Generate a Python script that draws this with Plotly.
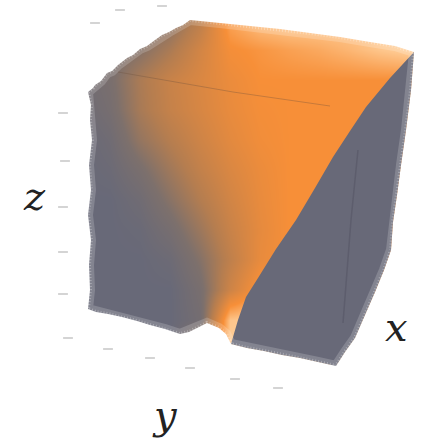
import plotly.graph_objects as go

# picture space, one unit = one pixel
WIDTH = 436
HEIGHT = 442

# how far each part of the cloud has gone from grey (0) to orange (1) to pale orange (1.3)
grid_x = [80, 110, 140, 170, 200, 230, 260, 290, 320, 350, 380, 410]
grid_y = [20, 50, 80, 110, 140, 170, 200, 230, 260, 290, 320, 350]
orange_share = [
    [.20, .20, .20, .30, .60, 1.10, 1.25, 1.30, 1.30, 1.30, 1.30, 1.30],
    [.20, .20, .30, .50, .75, .98, 1.03, 1.08, 1.12, 1.18, 1.25, 1.30],
    [.10, .22, .50, .68, .80, .92, 1.00, 1.00, 1.00, 1.00, 1.00, 1.00],
    [.05, .18, .48, .66, .78, .90, .98, 1.00, 1.00, 1.00, 1.00, 1.00],
    [.00, .10, .38, .56, .72, .86, .96, 1.00, 1.00, 1.00, 1.00, 1.00],
    [.00, .05, .22, .44, .64, .80, .92, 1.00, 1.00, 1.00, 1.00, 1.00],
    [.00, .00, .10, .32, .54, .74, .90, 1.00, 1.00, 1.00, 1.00, 1.00],
    [.00, .00, .03, .18, .42, .68, .88, 1.00, 1.00, 1.00, 1.00, 1.00],
    [.00, .00, .00, .06, .30, .62, .90, 1.00, 1.00, 1.00, 1.00, 1.00],
    [.00, .00, .00, .00, .20, .72, 1.05, 1.00, 1.00, 1.00, 1.00, 1.00],
    [.00, .00, .00, .00, .15, 1.25, 1.30, 1.20, 1.20, 1.20, 1.20, 1.20],
    [.00, .00, .00, .00, .50, 1.30, 1.30, 1.30, 1.30, 1.30, 1.30, 1.30],
]

# outline of the whole cloud, clockwise from the left corner
cloud_x = [88, 93, 95, 101, 107, 112, 118, 127, 133, 140, 147, 155, 162, 169, 176, 183, 190,
           220, 250, 280, 310, 340, 370, 395, 414,
           411, 406, 401, 397, 393, 391, 384, 375, 365, 355, 345, 336,
           318, 300, 282, 264, 247, 231, 226, 219, 207, 197, 189, 180,
           165, 150, 137, 122, 108, 96, 88, 90, 89, 91, 88, 91, 89, 92, 90, 91, 88]
cloud_y = [92, 88, 85, 81, 73, 71, 65, 58, 55, 49, 46, 40, 35, 32, 28, 25, 20,
           23, 26, 29, 33, 37, 42, 46, 52,
           90, 130, 165, 195, 222, 250, 270, 292, 315, 338, 352, 366,
           362, 358, 355, 351, 348, 344, 334, 328, 323, 328, 332, 334,
           329, 325, 321, 317, 314, 312, 309, 290, 265, 240, 215, 190, 165, 140, 120, 105, 92]

# grey block on the right, in front of the orange part
block_x = [231, 238, 246, 258, 276, 296, 315, 333, 350, 366, 390, 414,
           411, 406, 401, 397, 393, 391, 384, 375, 365, 355, 345, 336,
           318, 300, 282, 264, 247, 231]
block_y = [344, 320, 297, 278, 249, 220, 188, 157, 131, 107, 78, 52,
           90, 130, 165, 195, 222, 250, 270, 292, 315, 338, 352, 366,
           362, 358, 355, 351, 348, 344]

# box edges that show through the cloud
edge_top_x = [118, 233, 330]
edge_top_y = [72, 92, 106]
edge_front_x = [358, 351, 343]
edge_front_y = [150, 220, 323]

# faint tick labels, too blurred to read
tick_x = [120, 95, 162, 63, 65, 63, 63, 63, 68, 108, 150, 235, 278, 190]
tick_y = [10, 23, 6, 113, 161, 207, 252, 294, 338, 349, 358, 379, 388, 368]

fig = go.Figure()
fig.add_trace(go.Heatmap(
    x=grid_x, y=grid_y, z=orange_share, zmin=0, zmax=1.3, zsmooth='best', showscale=False,
    colorscale=[[0, 'rgb(104,105,120)'], [0.2, 'rgb(125,112,108)'], [0.42, 'rgb(180,125,80)'],
                [0.77, 'rgb(247,143,56)'], [1, 'rgb(255,208,155)']],
))
# the white around the cloud
mask_x = [0, WIDTH, WIDTH, 0, 0] + cloud_x[::-1] + [0]
mask_y = [0, 0, HEIGHT, HEIGHT, 0] + cloud_y[::-1] + [0]
fig.add_trace(go.Scatter(x=mask_x, y=mask_y, mode='none', fill='toself', fillcolor='white'))
fig.add_trace(go.Scatter(x=block_x, y=block_y, mode='none', fill='toself', fillcolor='rgb(104,105,120)'))
# soft, grainy rim of the cloud
fig.add_trace(go.Scatter(x=cloud_x, y=cloud_y, mode='lines',
                         line=dict(color='rgba(255,255,255,0.18)', width=10)))
fig.add_trace(go.Scatter(x=cloud_x, y=cloud_y, mode='lines',
                         line=dict(color='rgba(255,255,255,0.3)', width=4, dash='1px,2px')))
fig.add_trace(go.Scatter(x=edge_top_x, y=edge_top_y, mode='lines', line=dict(color='rgba(110,80,60,0.35)', width=1)))
fig.add_trace(go.Scatter(x=edge_front_x, y=edge_front_y, mode='lines', line=dict(color='rgba(80,80,95,0.45)', width=1.5)))
fig.add_trace(go.Scatter(x=tick_x, y=tick_y, mode='markers',
                         marker=dict(symbol='line-ew', size=7, line=dict(color='rgba(170,170,170,0.5)', width=2))))

for label, lx, ly in [('z', 34, 196), ('y', 165, 415), ('x', 396, 327)]:
    fig.add_annotation(x=lx, y=ly, text='<i>' + label + '</i>', showarrow=False,
                       font=dict(family='DejaVu Serif', size=40, color='#222222'))

fig.update_xaxes(range=[0, WIDTH], visible=False)
fig.update_yaxes(range=[HEIGHT, 0], visible=False)
fig.update_layout(width=WIDTH, height=HEIGHT, showlegend=False, paper_bgcolor='white', plot_bgcolor='white',
                  margin=dict(l=0, r=0, t=0, b=0))
fig.write_html('out.html', config=dict(displayModeBar=False),
               post_script="document.body.style.margin='0';document.body.style.overflow='hidden';")
